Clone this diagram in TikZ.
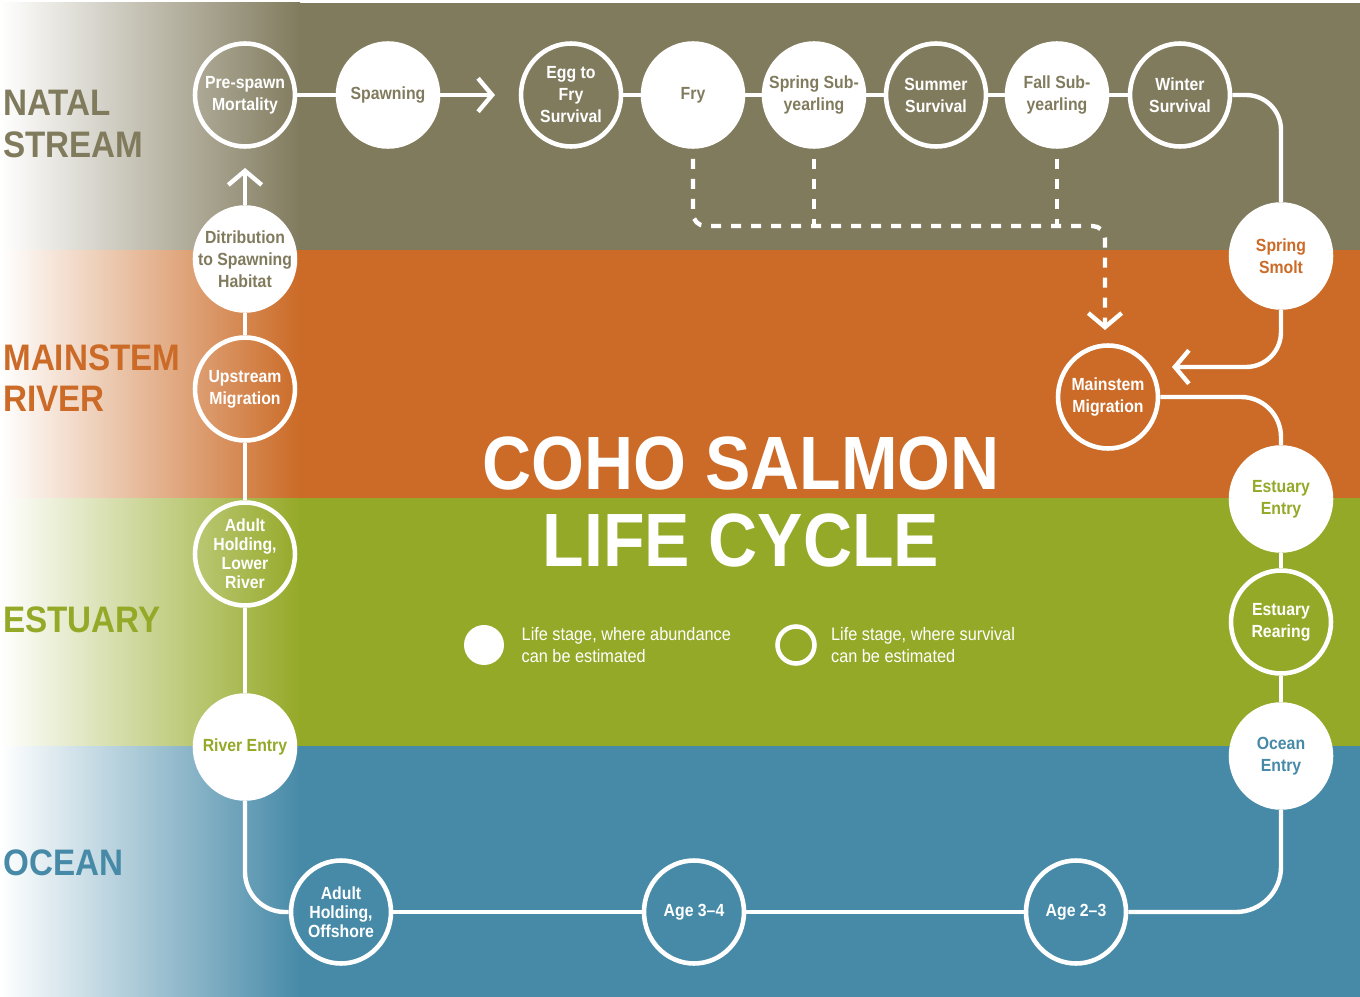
\documentclass[tikz,border=0pt]{standalone}
\usepackage{fontspec}
\setmainfont[FakeStretch=0.9]{Liberation Sans}
\usetikzlibrary{positioning,arrows.meta,shapes.geometric}
\definecolor{natalbrown}{HTML}{817B5E}
\definecolor{mainorange}{HTML}{CB6B27}
\definecolor{estgreen}{HTML}{95A928}
\definecolor{oceanblue}{HTML}{478AA8}

\begin{document}
\begin{tikzpicture}[
    x=0.02cm, y=-0.02cm,
    every node/.style={font=\bfseries\fontsize{10}{12.5}\selectfont},
    fillstage/.style={
        ellipse, draw=white, fill=white, line width=2.6pt,
        minimum width=2cm, minimum height=2.06cm,
        inner xsep=-0.35cm, inner ysep=-0.25cm,
        align=center, text=#1
    },
    openstage/.style={
        ellipse, draw=white, line width=2.6pt,
        minimum width=2cm, minimum height=2.06cm,
        inner xsep=-0.35cm, inner ysep=-0.25cm,
        align=center, text=white
    },
    tight/.style={font=\bfseries\fontsize{10}{10.8}\selectfont},
    flow/.style={draw=white, line width=2.5pt},
    arr/.style={flow, -{Straight Barb[length=8pt, width=19pt]}},
    dashflow/.style={arr, dash pattern=on 0.2cm off 0.2cm, rounded corners=0.25cm},
    bandlabel/.style={anchor=west, inner sep=0pt, align=left, text=#1,
        font=\bfseries\fontsize{21}{23.5}\selectfont},
    legendtext/.style={anchor=west, inner sep=0pt, align=left, text=white,
        font=\fontsize{10.3}{13}\selectfont},
]
\useasboundingbox (0,0) rectangle (1360,997);

% === Background bands ===
\foreach \c/\t/\b in {natalbrown/3/250, mainorange/250/498, estgreen/498/746, oceanblue/746/997} {
    \fill[\c] (0,\t) rectangle (1360,\b);
    \shade[left color=white, right color=\c] (0,\t) rectangle (300,\b);
}

% === Band labels ===
\node[bandlabel=natalbrown] (lnatal) at (3,124) {NATAL\\STREAM};
\node[bandlabel=mainorange] (lmain) at (3,378) {MAINSTEM\\RIVER};
\node[bandlabel=estgreen] (lest) at (3,620) {ESTUARY};
\node[bandlabel=oceanblue] (locean) at (3,863) {OCEAN};

% === Title ===
\node[text=white, align=center, font=\bfseries\fontsize{43}{43.5}\selectfont]
    (title) at (741,502) {COHO SALMON\\LIFE CYCLE};

% === Natal stream: top row ===
\node[openstage] (prespawn) at (245,95) {Pre-spawn\\Mortality};
\node[fillstage=natalbrown] (spawning) at (388,95) {Spawning};
\coordinate (spawntip) at (495,95);
\node[openstage] (eggfry) at (571,95) {Egg to\\Fry\\Survival};
\node[fillstage=natalbrown] (fry) at (693,95) {Fry};
\node[fillstage=natalbrown] (springsub) at (814,95) {Spring Sub-\\yearling};
\node[openstage] (summer) at (936,95) {Summer\\Survival};
\node[fillstage=natalbrown] (fallsub) at (1057,95) {Fall Sub-\\yearling};
\node[openstage] (winter) at (1180,95) {Winter\\Survival};

% === Right column ===
\node[fillstage=mainorange] (smolt) at (1281,256) {Spring\\Smolt};
\coordinate (smolttip) at (1172,367);
\node[openstage] (mainmig) at (1108,397) {Mainstem\\Migration};
\node[fillstage=estgreen] (estentry) at (1281,499) {Estuary\\Entry};
\node[openstage] (estrear) at (1281,622) {Estuary\\Rearing};
\node[fillstage=oceanblue] (oceanentry) at (1281,756) {Ocean\\Entry};

% === Ocean row ===
\node[openstage] (age23) at (1076,912) {Age 2\textendash3};
\node[openstage] (age34) at (694,912) {Age 3\textendash4};
\node[openstage, tight] (adultoff) at (341,912) {Adult\\Holding,\\Offshore};

% === Left column ===
\node[fillstage=estgreen] (riverentry) at (245,747) {River Entry};
\node[openstage, tight] (adultlow) at (245,554) {Adult\\Holding,\\Lower\\River};
\node[openstage] (upstream) at (245,389) {Upstream\\Migration};
\node[fillstage=natalbrown] (distrib) at (245,259) {Ditribution\\to Spawning\\Habitat};
\coordinate (distribtip) at (245,168);

% === Connectors ===
\draw[flow] (prespawn) -- (spawning);
\draw[arr] (spawning) -- (spawntip);
\foreach \a/\b in {eggfry/fry, fry/springsub, springsub/summer, summer/fallsub, fallsub/winter} {
    \draw[flow] (\a) -- (\b);
}
\draw[flow, rounded corners=0.7cm] (winter.east) -| (smolt.north);
\draw[arr, rounded corners=0.7cm] (smolt.south) |- (smolttip);
\draw[flow, rounded corners=0.8cm] (mainmig.east) -| (estentry.north);
\foreach \a/\b in {estentry/estrear, estrear/oceanentry, age23/age34, age34/adultoff,
                   riverentry/adultlow, adultlow/upstream, upstream/distrib} {
    \draw[flow] (\a) -- (\b);
}
\draw[flow, rounded corners=0.9cm] (oceanentry.south) |- (age23.east);
\draw[flow, rounded corners=0.8cm] (adultoff.west) -| (riverentry.south);
\draw[arr] (distrib) -- (distribtip);

% Dashed juvenile paths to mainstem
\coordinate (dashbend) at (1105,226);
\coordinate (dashtip) at (1105,330);
\draw[dashflow] ([yshift=-0.2cm]fry.south) |- (dashbend) -- (dashtip);
\draw[flow, dash pattern=on 0.2cm off 0.2cm] ([yshift=-0.2cm]springsub.south) -- (springsub.south |- dashbend);
\draw[flow, dash pattern=on 0.2cm off 0.2cm] ([yshift=-0.2cm]fallsub.south) -- (fallsub.south |- dashbend);

% === Legend ===
\node[circle, fill=white, minimum size=0.8cm, inner sep=0pt] (legfill) at (484,645) {};
\node[legendtext, right=0.34cm of legfill] (legfilltext) {Life stage, where abundance\\can be estimated};
\node[circle, draw=white, line width=2.6pt, minimum size=0.74cm, inner sep=0pt] (legopen) at (796,645) {};
\node[legendtext, right=0.28cm of legopen] (legopentext) {Life stage, where survival\\can be estimated};

\end{tikzpicture}
\end{document}
